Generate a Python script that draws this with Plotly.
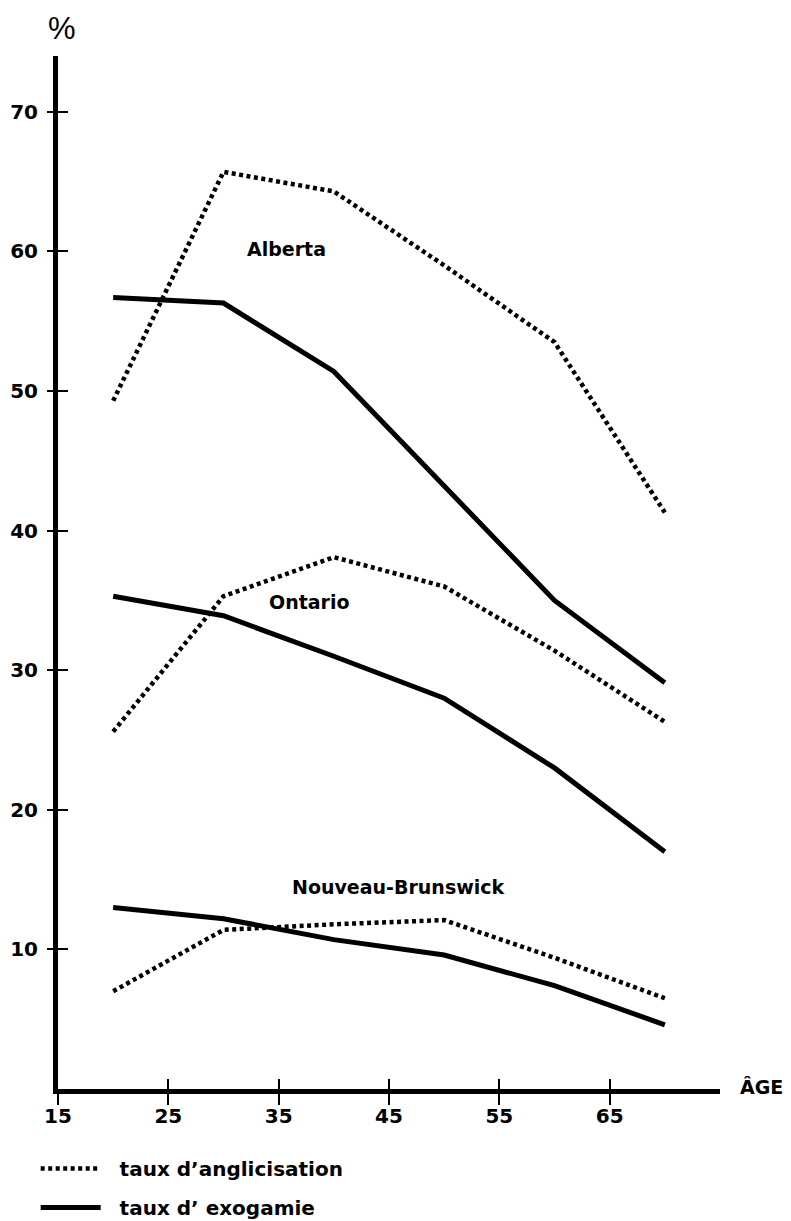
import plotly.graph_objects as go

ages = [20, 30, 40, 50, 60, 70]
alberta_angl = [49.3, 65.7, 64.3, 59.0, 53.5, 41.3]
alberta_exo = [56.7, 56.3, 51.4, 43.2, 35.0, 29.1]
ontario_angl = [25.6, 35.3, 38.1, 36.0, 31.4, 26.3]
ontario_exo = [35.3, 33.9, 31.0, 28.0, 23.0, 17.0]
nb_angl = [7.0, 11.4, 11.8, 12.1, 9.4, 6.5]
nb_exo = [13.0, 12.2, 10.7, 9.6, 7.4, 4.6]

x_ticks = [15, 25, 35, 45, 55, 65]
y_ticks = [10, 20, 30, 40, 50, 60, 70]

regions = [
    ("Alberta", alberta_angl, alberta_exo, 35.7, 60.2),
    ("Ontario", ontario_angl, ontario_exo, 37.8, 34.9),
    ("Nouveau-Brunswick", nb_angl, nb_exo, 45.9, 14.5),
]

FONT = "DejaVu Sans"
dot_line = dict(color="black", width=4.5, dash="4px,3.5px")
solid_line = dict(color="black", width=5)
NB = "\u00a0\u00a0"

fig = go.Figure()
for i, (name, angl, exo, lx, ly) in enumerate(regions):
    fig.add_trace(go.Scatter(
        x=ages, y=angl, mode="lines", line=dot_line,
        name=NB + "taux d\u2019anglicisation", legendgroup="a",
        showlegend=(i == 0)))
    fig.add_trace(go.Scatter(
        x=ages, y=exo, mode="lines", line=solid_line,
        name=NB + "taux d\u2019 exogamie", legendgroup="b",
        showlegend=(i == 0)))
    fig.add_annotation(x=lx, y=ly, text=name, showarrow=False,
                       font=dict(family=FONT, size=19, color="black", weight="bold"))

# invisible trace for overlay axes (inner half of crossing ticks)
fig.add_trace(go.Scatter(x=[ages[0]], y=[alberta_angl[0]], xaxis="x2", yaxis="y2",
                         mode="markers", marker=dict(opacity=0), showlegend=False,
                         hoverinfo="skip"))

tickfont = dict(family=FONT, size=20, color="black", weight="bold")
fig.update_layout(
    width=791, height=1221,
    margin=dict(l=50, r=79, t=48, b=140, autoexpand=False),
    paper_bgcolor="white", plot_bgcolor="white",
    showlegend=True,
    legend=dict(xref="container", yref="container", x=0.035, y=0.0655,
                xanchor="left", yanchor="top", traceorder="grouped",
                tracegroupgap=10, font=dict(family=FONT, size=20, color="black", weight="bold"),
                bgcolor="rgba(0,0,0,0)", itemwidth=60),
    xaxis=dict(range=[15, 75], showgrid=False, zeroline=False,
               showline=True, linecolor="black", linewidth=5,
               tickvals=x_ticks, ticks="outside", ticklen=11, tickwidth=2,
               tickcolor="black", tickfont=tickfont, ticklabelstandoff=-6),
    yaxis=dict(range=[0, 74], showgrid=False, zeroline=False,
               showline=True, linecolor="black", linewidth=5,
               tickvals=y_ticks, ticks="outside", ticklen=6, tickwidth=2,
               tickcolor="black", tickfont=tickfont, ticklabelstandoff=5),
    xaxis2=dict(range=[15, 75], overlaying="x", anchor="y", showgrid=False,
                zeroline=False, showline=False, tickvals=x_ticks, ticks="inside",
                ticklen=10, tickwidth=2, tickcolor="black", showticklabels=False,
                side="bottom"),
    yaxis2=dict(range=[0, 74], overlaying="y", anchor="x", showgrid=False,
                zeroline=False, showline=False, tickvals=y_ticks, ticks="inside",
                ticklen=10, tickwidth=2, tickcolor="black", showticklabels=False,
                side="left"),
)

fig.add_annotation(xref="paper", yref="paper", x=0, y=1, xanchor="center",
                   yanchor="middle", xshift=4, yshift=28,
                   text="%", showarrow=False,
                   font=dict(family="Liberation Sans", size=31, color="black"))
fig.add_annotation(xref="paper", yref="paper", x=1, y=0, xanchor="left",
                   yanchor="middle", xshift=18, yshift=2, text="ÂGE", showarrow=False,
                   font=dict(family=FONT, size=19, color="black", weight="bold"))

fig.write_html("out.html")
